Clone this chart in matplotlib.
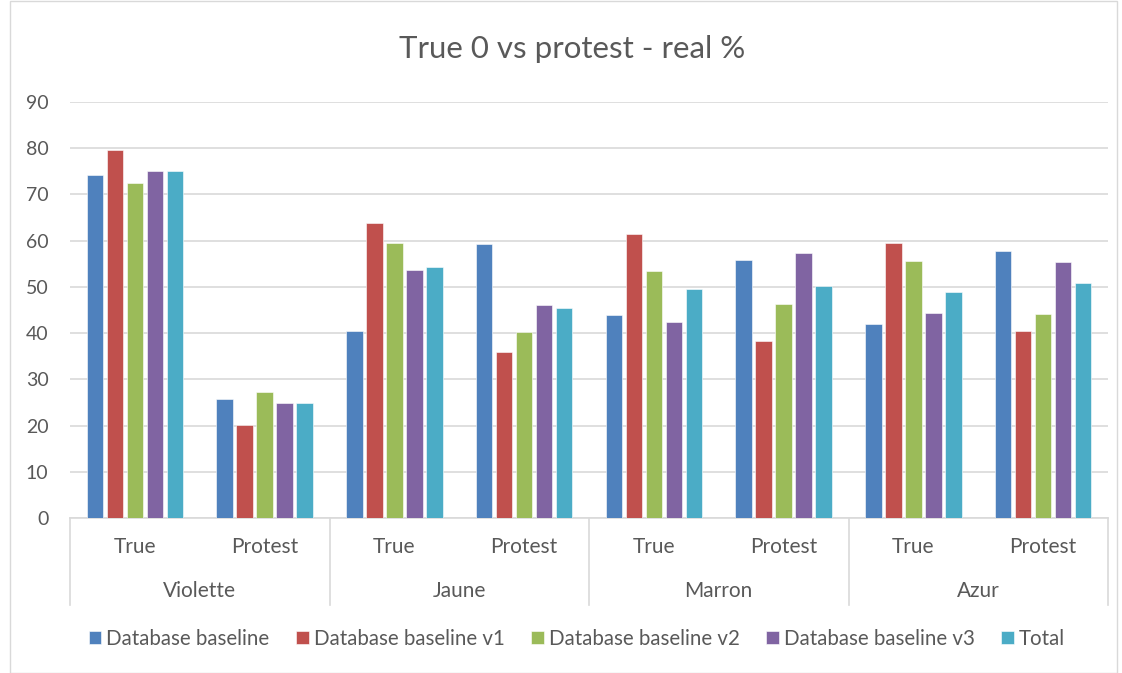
import matplotlib
matplotlib.use("Agg")
import matplotlib.pyplot as plt
import numpy as np
from matplotlib.patches import Rectangle

plt.rcParams['font.family'] = ['Lato', 'DejaVu Sans']

groups = ["Violette", "Jaune", "Marron", "Azur"]
subcats = ["True", "Protest"]
series_names = ["Database baseline", "Database baseline v1", "Database baseline v2",
                "Database baseline v3", "Total"]
# values per category: Violette True, Violette Protest, Jaune True, Jaune Protest, ...
baseline    = [74.1, 25.7, 40.5, 59.3, 43.9, 55.8, 42.0, 57.8]
baseline_v1 = [79.6, 20.2, 63.8, 35.9, 61.4, 38.4, 59.4, 40.4]
baseline_v2 = [72.5, 27.2, 59.6, 40.2, 53.4, 46.4, 55.7, 44.1]
baseline_v3 = [75.1, 24.8, 53.7, 46.0, 42.3, 57.4, 44.4, 55.4]
total       = [75.0, 24.8, 54.3, 45.4, 49.5, 50.3, 49.0, 50.8]
series = [baseline, baseline_v1, baseline_v2, baseline_v3, total]
colors = ["#4F81BD", "#C0504D", "#9BBB59", "#8064A2", "#4BACC6"]
yticks = [0, 10, 20, 30, 40, 50, 60, 70, 80, 90]

W, H = 1122, 673
fig = plt.figure(figsize=(W / 100, H / 100), dpi=100)
ax = fig.add_axes([70 / W, 1 - 518 / H, (1108 - 70) / W, (518 - 102) / H])

txt = "#595959"
grid = "#D9D9D9"
n = len(series)
pitch = 0.154
width = 0.128
x = np.arange(len(baseline))
for i, (vals, c, name) in enumerate(zip(series, colors, series_names)):
    ax.bar(x + (i - (n - 1) / 2) * pitch, vals, width=width, color=c,
           edgecolor="white", linewidth=0.4, label=name, zorder=3)

ax.set_xlim(-0.5, len(baseline) - 0.5)
ax.set_ylim(0, 90)
ax.set_yticks(yticks)
ax.set_yticklabels([str(v) for v in yticks], color=txt, fontsize=14)
ax.tick_params(axis='y', length=0, pad=15.5)
ax.tick_params(axis='x', length=0, labelbottom=False)
ax.yaxis.grid(True, color=grid, linewidth=1.2, zorder=0)
for s in ["top", "right", "left"]:
    ax.spines[s].set_visible(False)
ax.spines["bottom"].set_color(grid)
ax.spines["bottom"].set_linewidth(1.2)

trans = ax.get_xaxis_transform()
for k in range(len(groups) + 1):
    xs = -0.5 + 2 * k
    ax.plot([xs, xs], [0, -87 / 416], transform=trans, color=grid, lw=1.2, clip_on=False)
for j in range(len(baseline)):
    ax.text(j, -29 / 416, subcats[j % 2], transform=trans, ha="center", va="center",
            color=txt, fontsize=15)
for g, name in enumerate(groups):
    ax.text(2 * g + 0.5, -73 / 416, name, transform=trans, ha="center", va="center",
            color=txt, fontsize=15)

fig.text(572 / W, 1 - 49 / H, "True 0 vs protest - real %", ha="center", va="center",
         color=txt, fontsize=22.5)

fig.legend(loc="center", bbox_to_anchor=(577 / W, 1 - 639 / H), ncol=5, frameon=False,
           fontsize=14.8, handlelength=0.6, handleheight=0.6, handletextpad=0.25,
           columnspacing=1.3, labelcolor=txt)

fig.patches.append(Rectangle((10 / W, 0), (1117 - 10) / W, 1 - 1 / H, transform=fig.transFigure,
                             fill=False, edgecolor="#D9D9D9", linewidth=1))

fig.savefig("out.png", dpi=100)
